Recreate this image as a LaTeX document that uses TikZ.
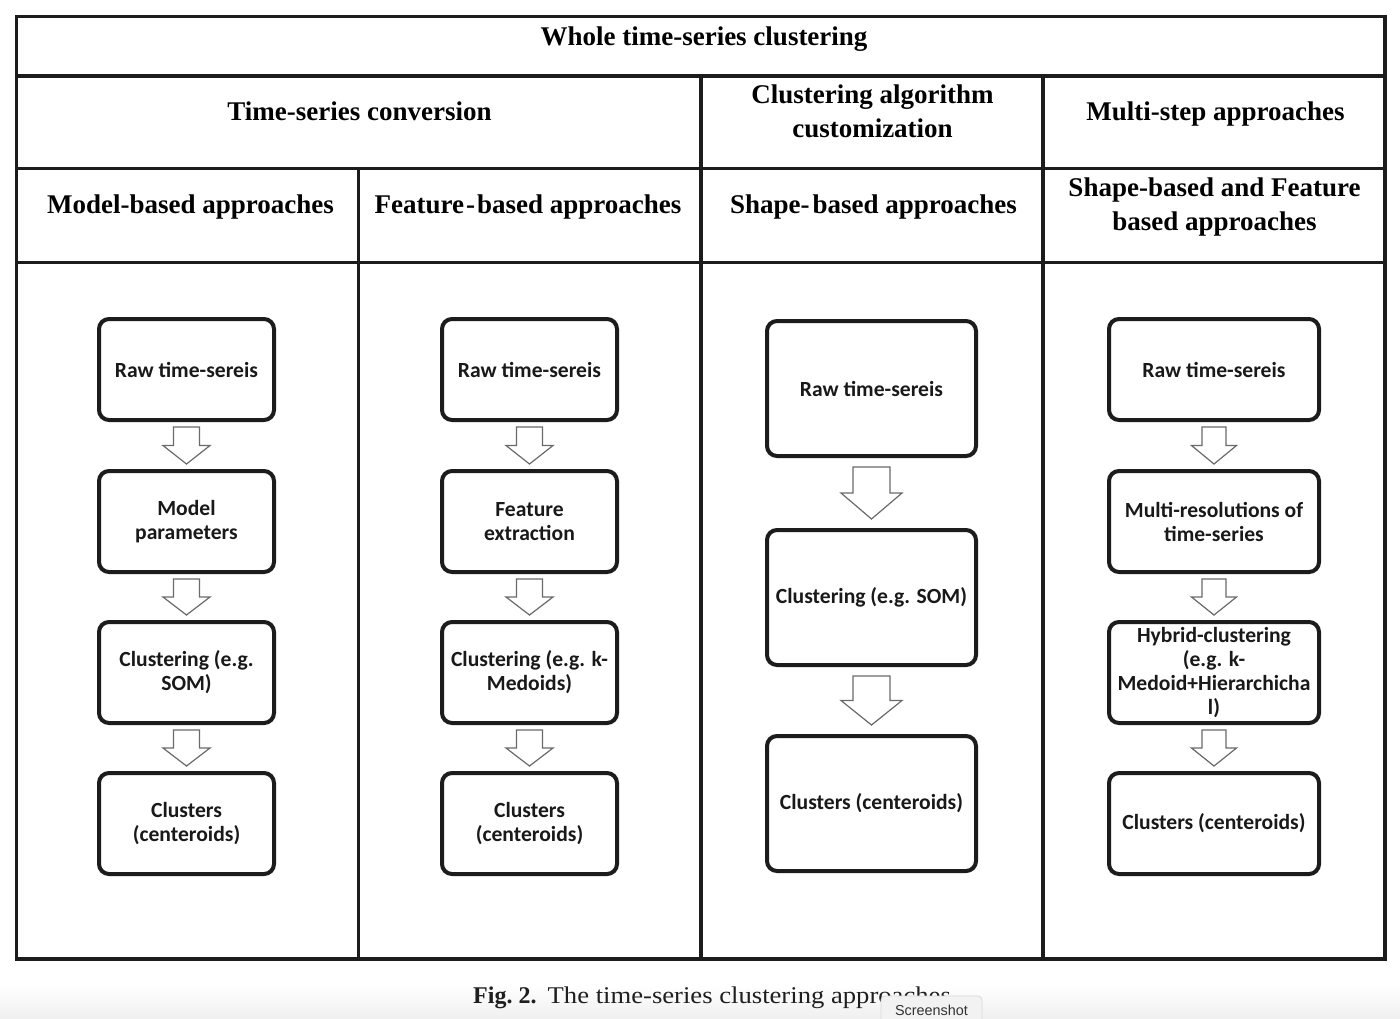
\documentclass[tikz,border=0pt]{standalone}
\usepackage{fontspec}
\usepackage{graphicx}
\setmainfont{Liberation Serif}
\newfontfamily\boxfont{Carlito}
\newfontfamily\tagfont{Liberation Sans}
\usetikzlibrary{calc}
\definecolor{ink}{HTML}{1C1C1C}
\definecolor{arrowgray}{HTML}{6A6A6A}
\definecolor{tagfill}{HTML}{F2F2F2}
\definecolor{tagline}{HTML}{DADADA}
\tikzset{
  gridline/.style={line width=3.5pt, draw=ink, line cap=rect},
  head/.style={font=\bfseries\fontsize{27}{34.5}\selectfont, text=black, inner sep=0pt, anchor=base},
  stepbox/.style={draw=ink, line width=4pt, rounded corners=10pt, fill=white, align=center,
    font=\boxfont\bfseries\fontsize{21.6}{24}\selectfont, inner sep=1pt, text=black!90},
  smallbox/.style={stepbox, minimum width=175pt, minimum height=101pt},
  widebox/.style={stepbox, minimum width=210pt, minimum height=101pt},
  bigbox/.style={stepbox, minimum width=209pt, minimum height=135pt},
  blockarrow/.style={draw=arrowgray, line width=1.2pt, fill=white, line join=miter},
}
\newcommand\blkarrow[5]{%
  \draw[blockarrow] let \p1=($(#1.south)+(0,#5)$), \p2=($(#2.north)+(0,-#5)$) in
    (\x1-#3,\y1) -- (\x1+#3,\y1) -- (\x1+#3,{(\y1+\y2)/2}) -- (\x1+#4,{(\y1+\y2)/2})
    -- (\x1,\y2) -- (\x1-#4,{(\y1+\y2)/2}) -- (\x1-#3,{(\y1+\y2)/2}) -- cycle;}
\begin{document}
\begin{tikzpicture}[x=1pt,y=-1pt]
\useasboundingbox (0,0) rectangle (1400,1018);
\fill[white] (0,0) rectangle (1400,1018);
\shade[top color=white, bottom color=black!6] (0,985) rectangle (1400,1018);

% table grid
\draw[gridline] (16.5,16.5) rectangle (1385,959);
\draw[gridline] (16.5,76) -- (1385,76);
\draw[gridline] (16.5,168.5) -- (1385,168.5);
\draw[gridline] (16.5,262.5) -- (1385,262.5);
\draw[gridline] (358.5,168.5) -- (358.5,959);
\draw[gridline] (701,76) -- (701,959);
\draw[gridline] (1043,76) -- (1043,959);

% headers
\node[head] (title) at (704,45) {Whole time-series clustering};
\node[head] (conv) at (359.5,120) {Time-series conversion};
\node[head] (cust) at (872.5,103) {\begin{tabular}[t]{@{}c@{}}Clustering algorithm\\customization\end{tabular}};
\node[head] (multi) at (1215.5,120) {Multi-step approaches};
\node[head] (model) at (190.5,213) {Model-based approaches};
\node[head] (feat) at (528,213) {Feature\kern2pt-\kern2pt based approaches};
\node[head] (shape) at (873.5,213) {Shape-\kern3pt based approaches};
\node[head] (shfeat) at (1214.5,196) {\begin{tabular}[t]{@{}c@{}}Shape-based and Feature\\based approaches\end{tabular}};

% column 1
\node[smallbox] (m1) at (186.5,369.5) {Raw time-sereis};
\node[smallbox] (m2) at (186.5,521.5) {Model\\parameters};
\node[smallbox] (m3) at (186.5,672.5) {Clustering (e.g.\\SOM)};
\node[smallbox] (m4) at (186.5,823.5) {Clusters\\(centeroids)};
% column 2
\node[smallbox] (f1) at (529.5,369.5) {Raw time-sereis};
\node[smallbox] (f2) at (529.5,521.5) {Feature\\extraction};
\node[smallbox] (f3) at (529.5,672.5) {Clustering (e.g. k-\\Medoids)};
\node[smallbox] (f4) at (529.5,823.5) {Clusters\\(centeroids)};
% column 3
\node[bigbox] (s1) at (871.5,388.5) {Raw time-sereis};
\node[bigbox] (s2) at (871.5,597.5) {Clustering (e.g. SOM)};
\node[bigbox] (s3) at (871.5,803.5) {Clusters (centeroids)};
% column 4
\node[widebox] (h1) at (1214,369.5) {Raw time-sereis};
\node[widebox] (h2) at (1214,521.5) {Multi-resolutions of\\time-series};
\node[widebox] (h3) at (1214,672.5) {Hybrid-clustering\\(e.g. k-\\Medoid+Hierarchicha\\l)};
\node[widebox] (h4) at (1214,823.5) {Clusters (centeroids)};

% block arrows
\blkarrow{m1}{m2}{13}{23.5}{5}
\blkarrow{m2}{m3}{13}{23.5}{5}
\blkarrow{m3}{m4}{13}{23.5}{5}
\blkarrow{f1}{f2}{13}{23.5}{5}
\blkarrow{f2}{f3}{13}{23.5}{5}
\blkarrow{f3}{f4}{13}{23.5}{5}
\blkarrow{s1}{s2}{18.5}{30.5}{9}
\blkarrow{s2}{s3}{18.5}{30.5}{9}
\blkarrow{h1}{h2}{12}{22.5}{5}
\blkarrow{h2}{h3}{12}{22.5}{5}
\blkarrow{h3}{h4}{12}{22.5}{5}

% caption
\node[anchor=base west, inner sep=0pt, text=black!88, font=\fontsize{24}{28}\selectfont\bfseries] (figlabel) at (473,1003) {Fig.~2.};
\node[anchor=base west, inner sep=0pt, text=black!88, font=\fontsize{24}{28}\selectfont] (figtext) at (547.5,1003) {\scalebox{1.11}[1]{The time-series clustering approaches}};

% screenshot tag
\draw[fill=tagfill, draw=tagline, line width=0.8pt, rounded corners=4pt] (881,1030) -- (881,996) -- (982,996) -- (982,1030);
\node[anchor=base, inner sep=0pt, font=\tagfont\fontsize{14.4}{16}\selectfont, text=black!80] (tag) at (931.5,1015) {Screenshot};
\end{tikzpicture}
\end{document}
